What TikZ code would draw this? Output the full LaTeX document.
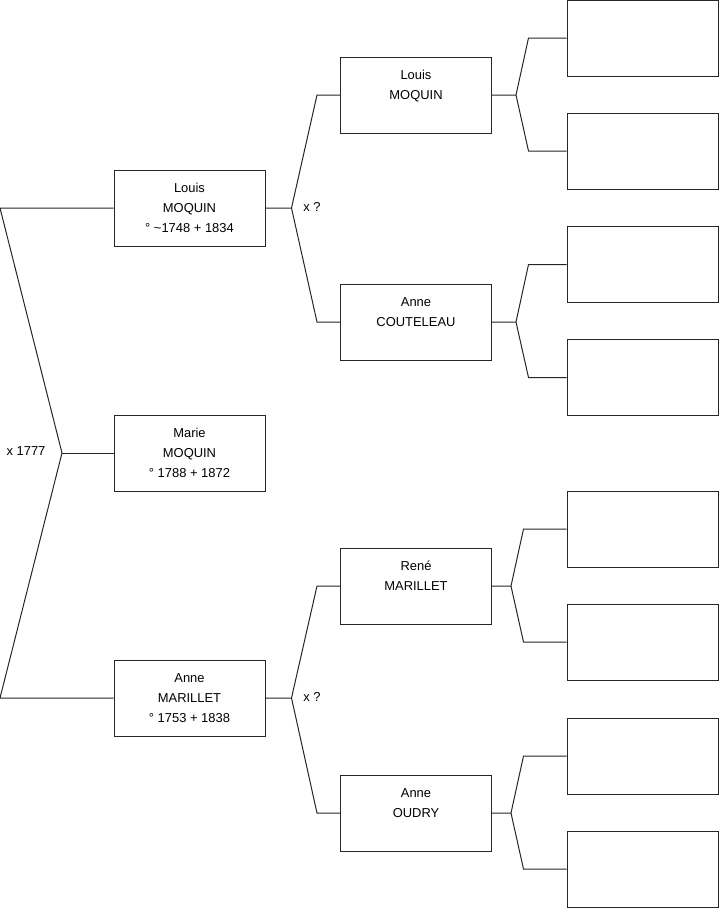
\documentclass[tikz,border=0pt]{standalone}
\usepackage{fontspec}
\setmainfont{Liberation Sans}
\usetikzlibrary{calc}

\begin{document}
\begin{tikzpicture}[
    x=0.75pt, y=-0.75pt,
    person/.style={rectangle, draw=black!85, line width=0.75pt, minimum width=113.25pt, minimum height=57pt, align=center, font=\fontsize{9.7}{15}\selectfont},
    emptybox/.style={person},
    branch/.style={draw=black!85, line width=0.75pt},
    label/.style={font=\fontsize{9.7}{11}\selectfont, inner sep=0pt},
]
    \useasboundingbox (0,0) rectangle (719,908);

    % Generation 0 and 1
    \node[person] (lm)  at (189.5,208) {Louis\\MOQUIN\\° \textasciitilde1748 + 1834};
    \node[person] (mm)  at (189.5,453) {Marie\\MOQUIN\\° 1788 + 1872};
    \node[person] (am)  at (189.5,698) {Anne\\MARILLET\\° 1753 + 1838};

    % Generation 2
    \node[person] (lm2) at (416,95)  {Louis\\MOQUIN\\\phantom{0}};
    \node[person] (ac)  at (416,322) {Anne\\COUTELEAU\\\phantom{0}};
    \node[person] (rm)  at (416,586) {René\\MARILLET\\\phantom{0}};
    \node[person] (ao)  at (416,813) {Anne\\OUDRY\\\phantom{0}};

    % Generation 3 (empty)
    \node[emptybox] (e1) at (642.5,38)    {};
    \node[emptybox] (e2) at (642.5,151)   {};
    \node[emptybox] (e3) at (642.5,264.5) {};
    \node[emptybox] (e4) at (642.5,377.5) {};
    \node[emptybox] (e5) at (642.5,529)   {};
    \node[emptybox] (e6) at (642.5,642)   {};
    \node[emptybox] (e7) at (642.5,756)   {};
    \node[emptybox] (e8) at (642.5,869)   {};

    % Parents of Marie
    \coordinate (ta) at (0,208);
    \coordinate (tm) at (62,453);
    \coordinate (tb) at (0,698);
    \draw[branch] (lm.west) -- (ta) -- (tm) -- (tb) -- (am.west);
    \draw[branch] (tm) -- (mm.west);
    \node[label] (m0) at (26,451) {x 1777};

    % Parents of Louis
    \coordinate (f1) at ($(lm.east)+(26,0)$);
    \draw[branch] (lm.east) -- (f1) -- ($(lm2.west)+(-23,0)$) -- (lm2.west);
    \draw[branch] (f1) -- ($(ac.west)+(-23,0)$) -- (ac.west);
    \node[label] (m1) at (312,207) {x ?};

    % Parents of Anne
    \coordinate (f2) at ($(am.east)+(26,0)$);
    \draw[branch] (am.east) -- (f2) -- ($(rm.west)+(-23,0)$) -- (rm.west);
    \draw[branch] (f2) -- ($(ao.west)+(-23,0)$) -- (ao.west);
    \node[label] (m2) at (312,697) {x ?};

    % Generation 3 links
    \coordinate (g1) at ($(lm2.east)+(24,0)$);
    \draw[branch] (lm2.east) -- (g1) -- ($(e1.west)+(-38,0)$) -- (e1.west);
    \draw[branch] (g1) -- ($(e2.west)+(-38,0)$) -- (e2.west);
    \coordinate (g2) at ($(ac.east)+(24,0)$);
    \draw[branch] (ac.east) -- (g2) -- ($(e3.west)+(-38,0)$) -- (e3.west);
    \draw[branch] (g2) -- ($(e4.west)+(-38,0)$) -- (e4.west);
    \coordinate (g3) at ($(rm.east)+(19,0)$);
    \draw[branch] (rm.east) -- (g3) -- ($(e5.west)+(-43,0)$) -- (e5.west);
    \draw[branch] (g3) -- ($(e6.west)+(-43,0)$) -- (e6.west);
    \coordinate (g4) at ($(ao.east)+(19,0)$);
    \draw[branch] (ao.east) -- (g4) -- ($(e7.west)+(-43,0)$) -- (e7.west);
    \draw[branch] (g4) -- ($(e8.west)+(-43,0)$) -- (e8.west);
\end{tikzpicture}
\end{document}
